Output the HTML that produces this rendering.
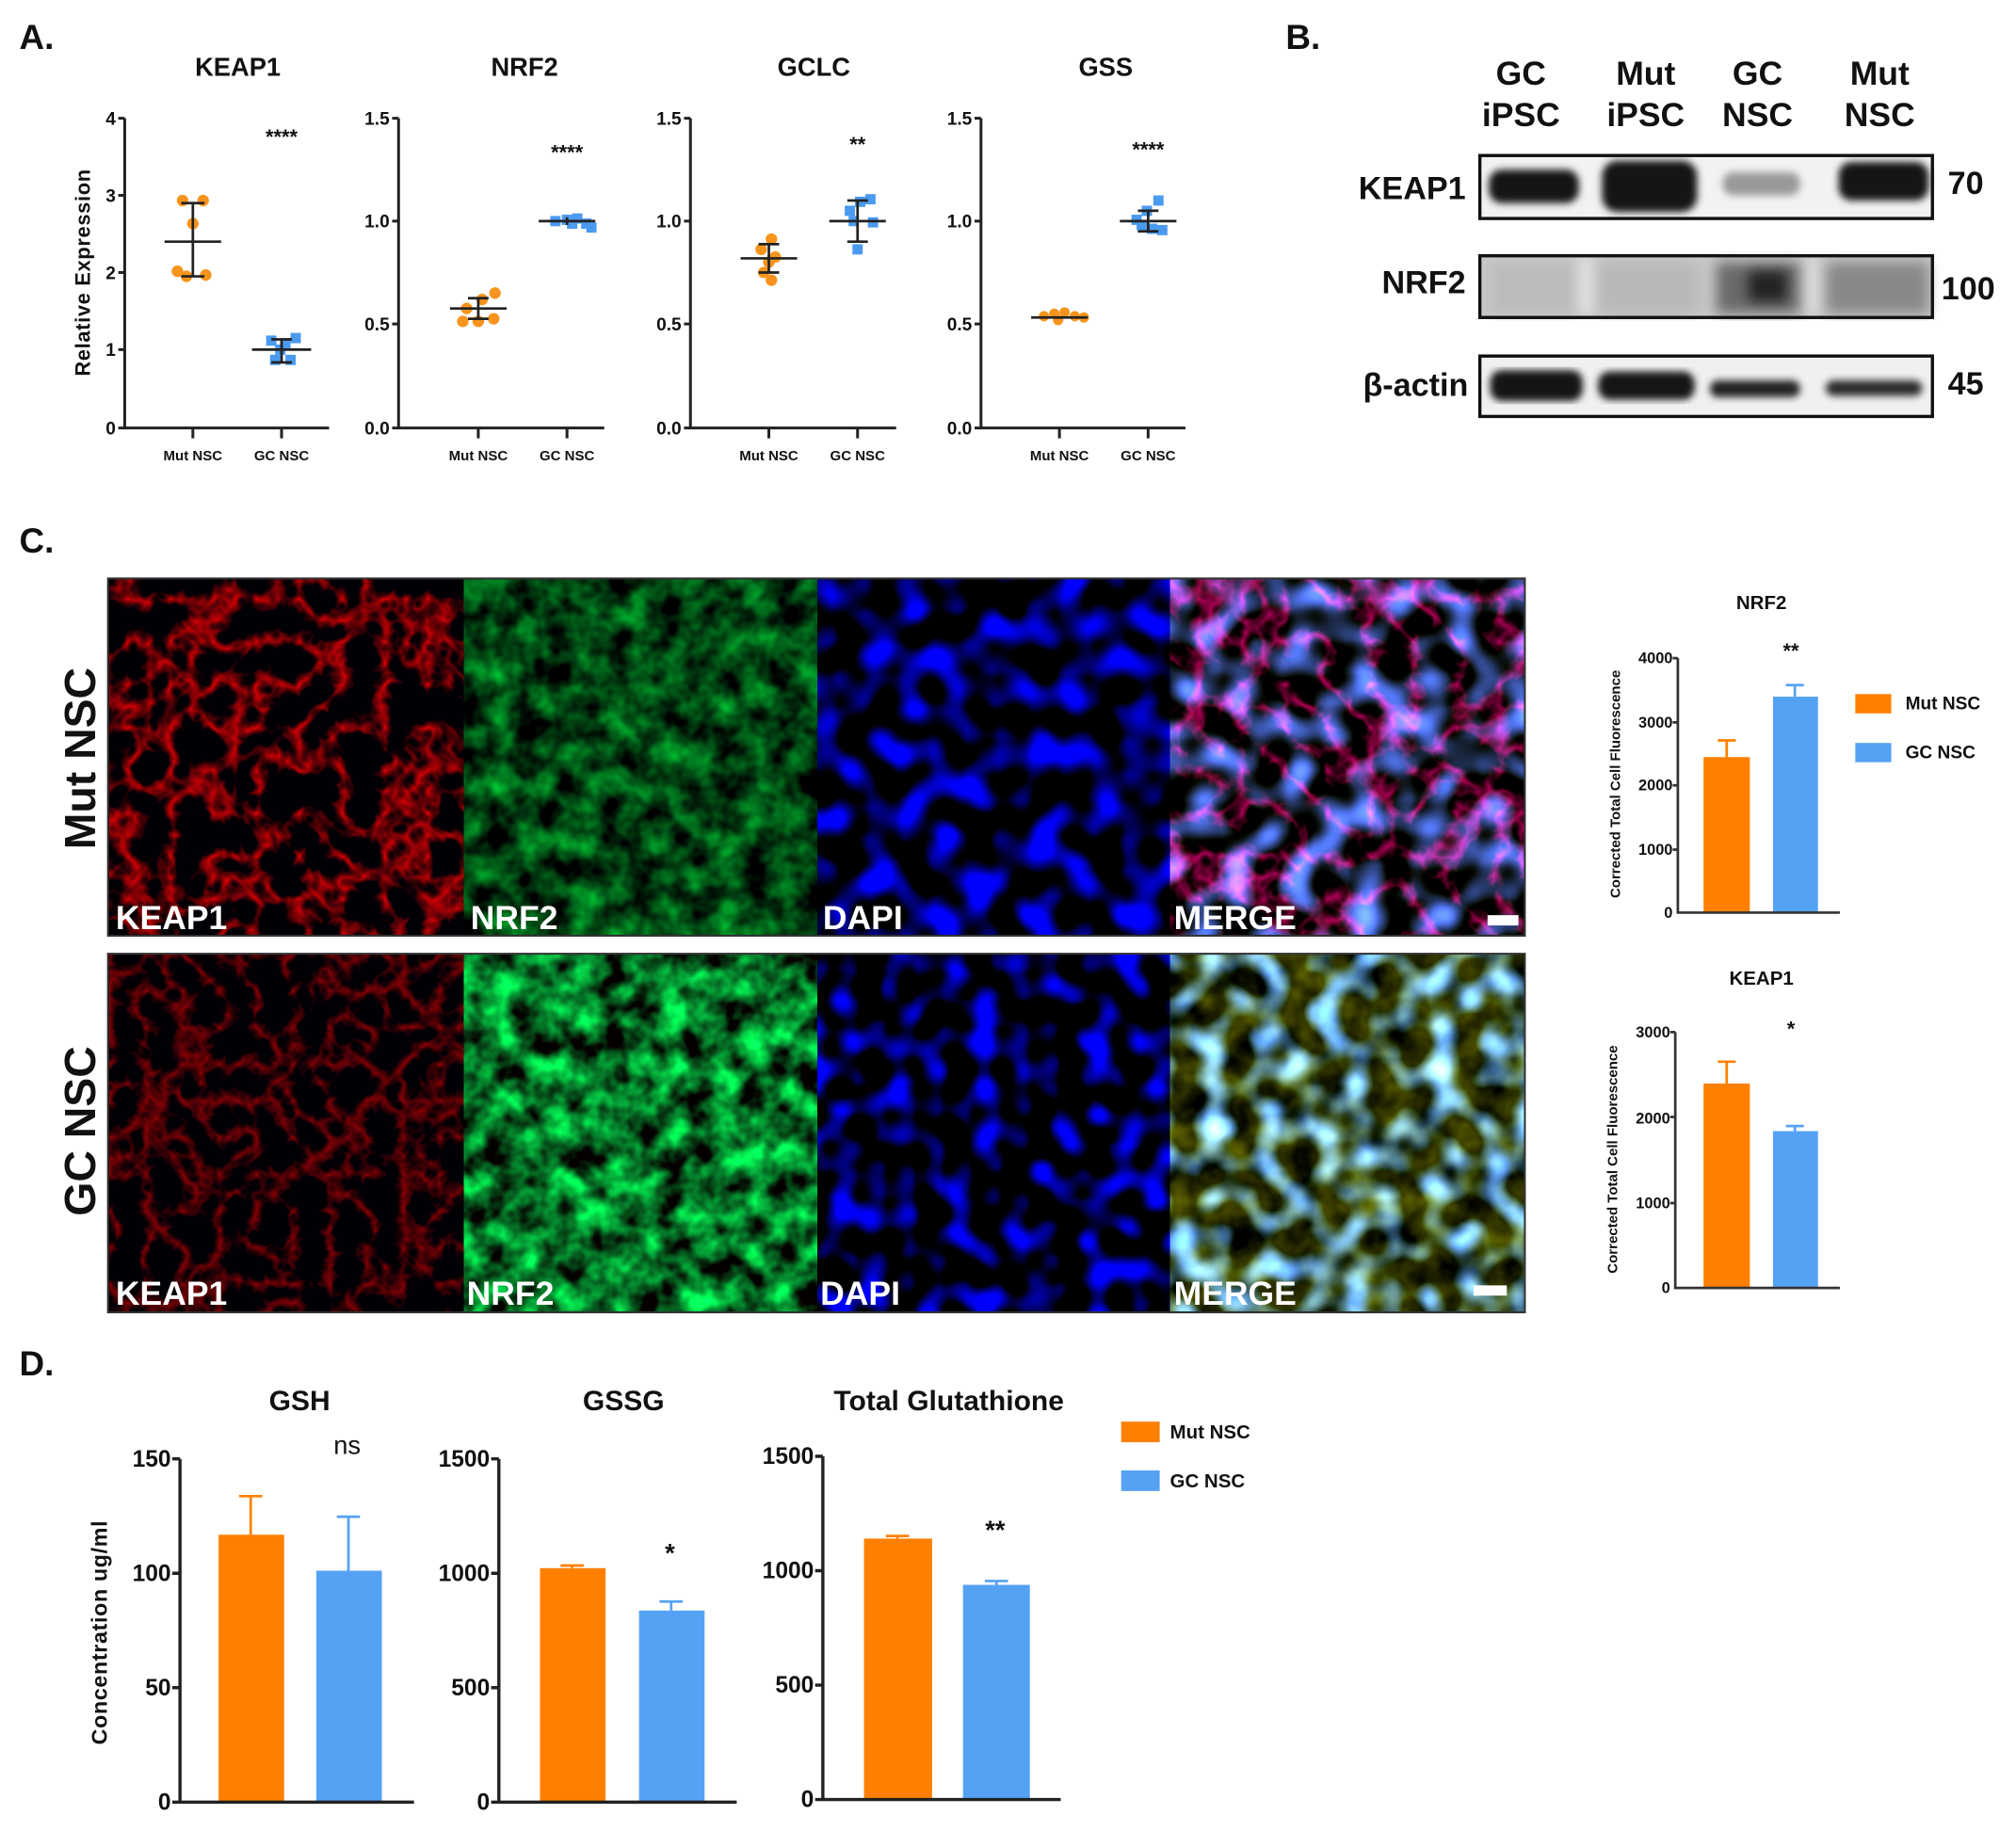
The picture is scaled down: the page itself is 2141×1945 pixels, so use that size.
<!DOCTYPE html>
<html><head><meta charset="utf-8"><style>
html,body{margin:0;padding:0;background:#fff;}
svg{display:block;}
text{font-family:"Liberation Sans",sans-serif;font-weight:bold;fill:#111;}
filter{color-interpolation-filters:sRGB;}
</style></head><body>
<svg width="2141" height="1945" viewBox="0 0 1568 1424.5" preserveAspectRatio="none" xmlns="http://www.w3.org/2000/svg">
<defs>
<filter id="blur2" color-interpolation-filters="sRGB"><feGaussianBlur stdDeviation="5"/></filter>
<filter id="blur1" color-interpolation-filters="sRGB"><feGaussianBlur stdDeviation="3"/></filter>
<filter id="fRed1" x="0" y="0" width="1" height="1" color-interpolation-filters="sRGB">
 <feTurbulence type="turbulence" baseFrequency="0.03" numOctaves="3" seed="3"/>
 <feColorMatrix type="matrix" values="-2.6 0 0 0 0.85  0 0 0 0 0  0 0 0 0 0.02  0 0 0 0 1"/>
</filter>
<filter id="fRed2" x="0" y="0" width="1" height="1" color-interpolation-filters="sRGB">
 <feTurbulence type="turbulence" baseFrequency="0.035" numOctaves="3" seed="8"/>
 <feColorMatrix type="matrix" values="-1.6 0 0 0 0.55  0 0 0 0 0  0 0 0 0 0.02  0 0 0 0 1"/>
</filter>
<filter id="fGreen1" x="0" y="0" width="1" height="1" color-interpolation-filters="sRGB">
 <feTurbulence type="fractalNoise" baseFrequency="0.045" numOctaves="3" seed="5"/>
 <feColorMatrix type="matrix" values="0 0 0 0 0  1.2 0 0 0 -0.33  0.3 0 0 0 -0.08  0 0 0 0 1"/>
</filter>
<filter id="fGreen2" x="0" y="0" width="1" height="1" color-interpolation-filters="sRGB">
 <feTurbulence type="fractalNoise" baseFrequency="0.045" numOctaves="3" seed="11"/>
 <feColorMatrix type="matrix" values="0 0 0 0 0.02  2.0 0 0 0 -0.55  0.7 0 0 0 -0.2  0 0 0 0 1"/>
</filter>
<filter id="fBlue1" x="0" y="0" width="1" height="1" color-interpolation-filters="sRGB">
 <feTurbulence type="fractalNoise" baseFrequency="0.04" numOctaves="1" seed="21"/>
 <feColorMatrix type="matrix" values="0 0 0 0 0  0 0 0 0 0  4.5 0 0 0 -2.0  0 0 0 0 1"/>
</filter>
<filter id="fBlue2" x="0" y="0" width="1" height="1" color-interpolation-filters="sRGB">
 <feTurbulence type="fractalNoise" baseFrequency="0.045" numOctaves="1" seed="33"/>
 <feColorMatrix type="matrix" values="0 0 0 0 0  0 0 0 0 0  4.5 0 0 0 -2.1  0 0 0 0 1"/>
</filter>
<filter id="fMerge1" x="0" y="0" width="1" height="1" color-interpolation-filters="sRGB">
 <feTurbulence type="fractalNoise" baseFrequency="0.04" numOctaves="1" seed="21" result="n1"/>
 <feColorMatrix in="n1" type="matrix" values="1.4 0 0 0 -0.6  2.0 0 0 0 -0.85  4.5 0 0 0 -2.0  0 0 0 0 1" result="b"/>
 <feTurbulence type="turbulence" baseFrequency="0.03" numOctaves="3" seed="3" result="n2"/>
 <feColorMatrix in="n2" type="matrix" values="-2.2 0 0 0 0.7  0 0 0 0 0  -1.2 0 0 0 0.35  0 0 0 0 1" result="r"/>
 <feComposite in="b" in2="r" operator="arithmetic" k2="1" k3="1"/>
</filter>
<filter id="fMerge2" x="0" y="0" width="1" height="1" color-interpolation-filters="sRGB">
 <feTurbulence type="fractalNoise" baseFrequency="0.045" numOctaves="1" seed="33" result="n1"/>
 <feColorMatrix in="n1" type="matrix" values="1.8 0 0 0 -0.8  2.8 0 0 0 -1.2  4.5 0 0 0 -2.0  0 0 0 0 1" result="b"/>
 <feTurbulence type="fractalNoise" baseFrequency="0.04" numOctaves="3" seed="11" result="n2"/>
 <feColorMatrix in="n2" type="matrix" values="0.6 0 0 0 -0.15  0.6 0 0 0 -0.14  0 0 0 0 0  0 0 0 0 1" result="y"/>
 <feComposite in="b" in2="y" operator="arithmetic" k2="1" k3="1"/>
</filter>
</defs>

<!-- ===== Panel A ===== -->
<text x="15" y="38" font-size="27">A.</text>
<g font-size="20" text-anchor="middle">
<text x="185" y="59">KEAP1</text><text x="408" y="59">NRF2</text><text x="633" y="59">GCLC</text><text x="860" y="59">GSS</text>
</g>
<text transform="translate(70,212) rotate(-90)" font-size="16" text-anchor="middle" letter-spacing="0.5">Relative  Expression</text>

<g stroke="#222" stroke-width="2.2" fill="none">
<path d="M97,92 V333 H256 M92,92H97 M92,152H97 M92,212H97 M92,272H97 M92,333H97 M150,333V341 M219,333V341"/>
<path d="M310,92 V333 H470 M305,92H310 M305,172H310 M305,252H310 M305,333H310 M372,333V341 M441,333V341"/>
<path d="M537,92 V333 H697 M532,92H537 M532,172H537 M532,252H537 M532,333H537 M598,333V341 M667,333V341"/>
<path d="M763,92 V333 H922 M758,92H763 M758,172H763 M758,252H763 M758,333H763 M824,333V341 M893,333V341"/>
</g>
<g font-size="14" text-anchor="end">
<text x="90" y="97">4</text><text x="90" y="157">3</text><text x="90" y="217">2</text><text x="90" y="277">1</text><text x="90" y="338">0</text>
<text x="303" y="97">1.5</text><text x="303" y="177">1.0</text><text x="303" y="257">0.5</text><text x="303" y="338">0.0</text>
<text x="530" y="97">1.5</text><text x="530" y="177">1.0</text><text x="530" y="257">0.5</text><text x="530" y="338">0.0</text>
<text x="756" y="97">1.5</text><text x="756" y="177">1.0</text><text x="756" y="257">0.5</text><text x="756" y="338">0.0</text>
</g>
<g font-size="11" text-anchor="middle" fill="#333">
<text x="150" y="358">Mut NSC</text><text x="219" y="358">GC NSC</text>
<text x="372" y="358">Mut NSC</text><text x="441" y="358">GC NSC</text>
<text x="598" y="358">Mut NSC</text><text x="667" y="358">GC NSC</text>
<text x="824" y="358">Mut NSC</text><text x="893" y="358">GC NSC</text>
</g>
<g font-size="16" text-anchor="middle">
<text x="219" y="112">****</text><text x="441" y="124">****</text><text x="667" y="118">**</text><text x="893" y="122">****</text>
</g>
<g fill="#F7941D">
<circle cx="142" cy="156" r="4.5"/><circle cx="158" cy="156" r="4.5"/><circle cx="150" cy="174" r="4.5"/><circle cx="138" cy="211" r="4.5"/><circle cx="145" cy="215" r="4.5"/><circle cx="160" cy="214" r="4.5"/>
<circle cx="363" cy="240" r="4.5"/><circle cx="375" cy="233" r="4.5"/><circle cx="385" cy="228" r="4.5"/><circle cx="360" cy="250" r="4.5"/><circle cx="372" cy="250" r="4.5"/><circle cx="384" cy="248" r="4.5"/>
<circle cx="600" cy="186" r="4.5"/><circle cx="592" cy="194" r="4.5"/><circle cx="598" cy="204" r="4.5"/><circle cx="594" cy="212" r="4.5"/><circle cx="600" cy="218" r="4.5"/><circle cx="603" cy="200" r="4.5"/>
<circle cx="812" cy="246" r="4"/><circle cx="820" cy="244" r="4"/><circle cx="828" cy="243" r="4"/><circle cx="836" cy="246" r="4"/><circle cx="823" cy="249" r="4"/><circle cx="843" cy="247" r="4"/>
</g>
<g fill="#4A9BF0">
<rect x="207" y="261" width="8" height="8"/><rect x="218" y="263" width="8" height="8"/><rect x="226" y="259" width="8" height="8"/><rect x="210" y="276" width="8" height="8"/><rect x="222" y="276" width="8" height="8"/><rect x="214" y="268" width="8" height="8"/>
<rect x="428" y="168" width="8" height="8"/><rect x="437" y="167" width="8" height="8"/><rect x="445" y="166" width="8" height="8"/><rect x="452" y="170" width="8" height="8"/><rect x="456" y="173" width="8" height="8"/><rect x="441" y="170" width="8" height="8"/>
<rect x="657" y="160" width="8" height="8"/><rect x="665" y="153" width="8" height="8"/><rect x="673" y="151" width="8" height="8"/><rect x="675" y="169" width="8" height="8"/><rect x="663" y="190" width="8" height="8"/><rect x="660" y="168" width="8" height="8"/>
<rect x="880" y="167" width="8" height="8"/><rect x="888" y="160" width="8" height="8"/><rect x="897" y="152" width="8" height="8"/><rect x="900" y="175" width="8" height="8"/><rect x="892" y="174" width="8" height="8"/><rect x="884" y="171" width="8" height="8"/>
</g>
<g stroke="#222" stroke-width="2" fill="none">
<path d="M128,188H172 M150,158V215 M141,158H159 M141,215H159"/>
<path d="M196,272H242 M219,264V282 M211,264H227 M211,282H227"/>
<path d="M350,240H394 M372,232V248 M364,232H380 M364,248H380"/>
<path d="M419,172H463 M441,169V175"/>
<path d="M576,201H620 M598,190V212 M590,190H606 M590,212H606"/>
<path d="M645,172H689 M667,156V188 M659,156H675 M659,188H675"/>
<path d="M802,247H846"/>
<path d="M871,172H915 M893,164V180 M885,164H901 M885,180H901"/>
</g>

<!-- ===== Panel B ===== -->
<text x="1000" y="38" font-size="27">B.</text>
<g font-size="26" text-anchor="middle">
<text x="1183" y="66">GC</text><text x="1183" y="98">iPSC</text>
<text x="1280" y="66">Mut</text><text x="1280" y="98">iPSC</text>
<text x="1367" y="66">GC</text><text x="1367" y="98">NSC</text>
<text x="1462" y="66">Mut</text><text x="1462" y="98">NSC</text>
</g>
<g font-size="25" text-anchor="end">
<text x="1140" y="155">KEAP1</text><text x="1140" y="228">NRF2</text><text x="1142" y="308">β-actin</text>
</g>
<g font-size="25">
<text x="1515" y="151">70</text><text x="1510" y="233">100</text><text x="1515" y="307">45</text>
</g>
<rect x="1151" y="121" width="352" height="49" fill="#f2f2f2"/>
<g filter="url(#blur1)" fill="#151515">
<rect x="1158" y="132" width="70" height="26" rx="10"/>
<rect x="1246" y="125" width="74" height="40" rx="12"/>
<rect x="1340" y="134" width="60" height="18" rx="8" fill="#999"/>
<rect x="1430" y="126" width="70" height="30" rx="10"/>
</g>
<rect x="1151" y="121" width="352" height="49" fill="none" stroke="#111" stroke-width="2.5"/>
<rect x="1151" y="199" width="352" height="48" fill="#c8c8c8"/>
<g filter="url(#blur2)">
<rect x="1160" y="204" width="65" height="40" fill="#bbb"/>
<rect x="1243" y="204" width="78" height="40" fill="#b8b8b8"/>
<rect x="1335" y="204" width="65" height="40" fill="#6a6a6a"/>
<rect x="1360" y="210" width="30" height="25" fill="#222"/>
<rect x="1420" y="204" width="80" height="40" fill="#888"/>
<rect x="1228" y="200" width="10" height="45" fill="#e4e4e4"/>
<rect x="1405" y="200" width="10" height="45" fill="#ddd"/>
</g>
<rect x="1151" y="199" width="352" height="48" fill="none" stroke="#111" stroke-width="2.5"/>
<rect x="1151" y="277" width="352" height="47" fill="#f0f0f0"/>
<g filter="url(#blur1)" fill="#151515">
<rect x="1159" y="288" width="72" height="24" rx="9"/>
<rect x="1243" y="289" width="75" height="22" rx="9"/>
<rect x="1330" y="296" width="70" height="13" rx="6" fill="#222"/>
<rect x="1420" y="296" width="75" height="12" rx="6" fill="#2a2a2a"/>
</g>
<rect x="1151" y="277" width="352" height="47" fill="none" stroke="#111" stroke-width="2.5"/>

<!-- ===== Panel C ===== -->
<text x="15" y="430" font-size="27">C.</text>
<rect x="84" y="450" width="1102" height="278" fill="#000"/>
<rect x="85" y="451" width="276" height="276" filter="url(#fRed1)"/>
<rect x="361" y="451" width="275" height="276" filter="url(#fGreen1)"/>
<rect x="636" y="451" width="274" height="276" filter="url(#fBlue1)"/>
<rect x="910" y="451" width="275" height="276" filter="url(#fMerge1)"/>
<rect x="84" y="742" width="1102" height="279" fill="#000"/>
<rect x="85" y="743" width="276" height="277" filter="url(#fRed2)"/>
<rect x="361" y="743" width="275" height="277" filter="url(#fGreen2)"/>
<rect x="636" y="743" width="274" height="277" filter="url(#fBlue2)"/>
<rect x="910" y="743" width="275" height="277" filter="url(#fMerge2)"/>
<rect x="84" y="450" width="1102" height="278" fill="none" stroke="#333" stroke-width="1.5"/>
<rect x="84" y="742" width="1102" height="279" fill="none" stroke="#333" stroke-width="1.5"/>
<g font-size="26">
<text x="90" y="723" style="fill:#fff">KEAP1</text><text x="366" y="723" style="fill:#fff">NRF2</text><text x="640" y="723" style="fill:#fff">DAPI</text><text x="913" y="723" style="fill:#fff">MERGE</text>
<text x="90" y="1015" style="fill:#fff">KEAP1</text><text x="363" y="1015" style="fill:#fff">NRF2</text><text x="638" y="1015" style="fill:#fff">DAPI</text><text x="913" y="1015" style="fill:#fff">MERGE</text>
</g>
<rect x="1157" y="712" width="24" height="8" fill="#fff"/>
<rect x="1146" y="1000" width="26" height="8" fill="#fff"/>
<g font-size="34" text-anchor="middle">
<text transform="translate(74,590) rotate(-90)">Mut NSC</text>
<text transform="translate(74,880) rotate(-90)">GC NSC</text>
</g>

<g font-size="15" text-anchor="middle"><text x="1370" y="474">NRF2</text><text x="1370" y="766">KEAP1</text></g>
<g font-size="11" text-anchor="middle" fill="#333">
<text transform="translate(1260,610) rotate(-90)">Corrected  Total Cell  Fluorescence</text>
<text transform="translate(1258,902) rotate(-90)">Corrected  Total Cell  Fluorescence</text>
</g>
<g font-size="12" text-anchor="end">
<text x="1301" y="516">4000</text><text x="1301" y="566">3000</text><text x="1301" y="615">2000</text><text x="1301" y="665">1000</text><text x="1301" y="714">0</text>
<text x="1299" y="807">3000</text><text x="1299" y="874">2000</text><text x="1299" y="940">1000</text><text x="1299" y="1006">0</text>
</g>
<rect x="1325" y="589" width="36" height="121" fill="#FF8000"/>
<rect x="1379" y="542" width="35" height="168" fill="#55A2F5"/>
<rect x="1325" y="843" width="36" height="159" fill="#FF8000"/>
<rect x="1379" y="880" width="35" height="122" fill="#55A2F5"/>
<g stroke-width="2" fill="none">
<path d="M1343,589V576 M1336,576H1350" stroke="#FF8000"/>
<path d="M1396,542V533 M1389,533H1403" stroke="#55A2F5"/>
<path d="M1343,843V826 M1336,826H1350" stroke="#FF8000"/>
<path d="M1396,880V876 M1389,876H1403" stroke="#55A2F5"/>
</g>
<g stroke="#333" stroke-width="2" fill="none">
<path d="M1305,512V710H1431 M1301,512H1305 M1301,562H1305 M1301,611H1305 M1301,661H1305"/>
<path d="M1303,803V1002H1431 M1299,803H1303 M1299,869H1303 M1299,936H1303"/>
</g>
<g font-size="16" text-anchor="middle"><text x="1393" y="512">**</text><text x="1393" y="806">*</text></g>
<rect x="1443" y="540" width="28" height="15" fill="#FF8000"/>
<rect x="1443" y="578" width="28" height="15" fill="#55A2F5"/>
<g font-size="14"><text x="1482" y="552">Mut NSC</text><text x="1482" y="590">GC NSC</text></g>

<!-- ===== Panel D ===== -->
<text x="15" y="1070" font-size="27">D.</text>
<g font-size="22" text-anchor="middle">
<text x="233" y="1097">GSH</text><text x="485" y="1097">GSSG</text><text x="738" y="1097">Total Glutathione</text>
</g>
<text transform="translate(83,1270) rotate(-90)" font-size="17" text-anchor="middle" letter-spacing="0.5">Concentration ug/ml</text>
<g font-size="18" text-anchor="end">
<text x="133" y="1141">150</text><text x="133" y="1230">100</text><text x="133" y="1319">50</text><text x="133" y="1408">0</text>
<text x="381" y="1141">1500</text><text x="381" y="1230">1000</text><text x="381" y="1319">500</text><text x="381" y="1408">0</text>
<text x="633" y="1139">1500</text><text x="633" y="1228">1000</text><text x="633" y="1317">500</text><text x="633" y="1406">0</text>
</g>
<rect x="170" y="1194" width="51" height="208" fill="#FF8000"/>
<rect x="246" y="1222" width="51" height="180" fill="#55A2F5"/>
<rect x="420" y="1220" width="51" height="182" fill="#FF8000"/>
<rect x="497" y="1253" width="51" height="149" fill="#55A2F5"/>
<rect x="672" y="1197" width="53" height="203" fill="#FF8000"/>
<rect x="749" y="1233" width="52" height="167" fill="#55A2F5"/>
<g stroke-width="2" fill="none">
<path d="M195,1194V1164 M186,1164H204" stroke="#FF8000"/>
<path d="M271,1222V1180 M262,1180H280" stroke="#55A2F5"/>
<path d="M445,1220V1218 M436,1218H454" stroke="#FF8000"/>
<path d="M522,1253V1246 M513,1246H531" stroke="#55A2F5"/>
<path d="M698,1197V1195 M689,1195H707" stroke="#FF8000"/>
<path d="M775,1233V1230 M766,1230H784" stroke="#55A2F5"/>
</g>
<g stroke="#222" stroke-width="2.5" fill="none">
<path d="M140,1135V1402H322 M134,1135H140 M134,1224H140 M134,1313H140 M134,1402H140"/>
<path d="M388,1135V1402H573 M382,1135H388 M382,1224H388 M382,1313H388 M382,1402H388"/>
<path d="M640,1133V1400H825 M634,1133H640 M634,1222H640 M634,1311H640 M634,1400H640"/>
</g>
<g font-size="20" text-anchor="middle">
<text x="270" y="1131" style="font-weight:normal">ns</text><text x="521" y="1215">*</text><text x="774" y="1197">**</text>
</g>
<rect x="872" y="1106" width="30" height="16" fill="#FF8000"/>
<rect x="872" y="1144" width="30" height="16" fill="#55A2F5"/>
<g font-size="15"><text x="910" y="1119">Mut NSC</text><text x="910" y="1157">GC NSC</text></g>
</svg>
</body></html>
